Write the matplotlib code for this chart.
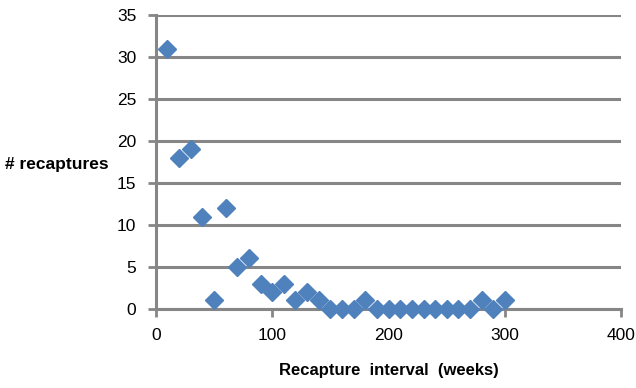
import matplotlib
matplotlib.use("Agg")
import matplotlib.pyplot as plt

# recapture interval (weeks) vs number of recaptures
weeks = [10, 20, 30, 40, 50, 60, 70, 80, 90, 100,
         110, 120, 130, 140, 150, 160, 170, 180, 190, 200,
         210, 220, 230, 240, 250, 260, 270, 280, 290, 300]
recaptures = [31, 18, 19, 11, 1, 12, 5, 6, 3, 2,
              3, 1, 2, 1, 0, 0, 0, 1, 0, 0,
              0, 0, 0, 0, 0, 0, 0, 1, 0, 1]
x_ticks = [0, 100, 200, 300, 400]
y_ticks = [0, 5, 10, 15, 20, 25, 30, 35]

plt.rcParams['font.family'] = ['Liberation Sans', 'DejaVu Sans']

fig = plt.figure(figsize=(6.36, 3.88), dpi=100)
ax = fig.add_axes([0.245, 0.204, 0.732, 0.757])

ax.plot(weeks, recaptures, linestyle='none', marker='D', markersize=9.5,
        color='#4F81BD', clip_on=False, zorder=3)

ax.set_xlim(0, 400)
ax.set_ylim(0, 35)
ax.set_xticks(x_ticks)
ax.set_yticks(y_ticks)

grey = '#868686'
ax.grid(axis='y', color=grey, linewidth=2.2)
ax.set_axisbelow(True)
for side in ('top', 'right'):
    ax.spines[side].set_visible(False)
for side in ('left', 'bottom'):
    ax.spines[side].set_color(grey)
    ax.spines[side].set_linewidth(2.2)
ax.tick_params(colors=grey, width=2, length=6, labelcolor='black',
               labelsize=12.5, pad=8)

ax.set_xlabel('Recapture  interval  (weeks)', fontsize=12, fontweight='bold',
              labelpad=14)
ax.set_ylabel('# recaptures', fontsize=12.5, fontweight='bold', rotation=0,
              ha='left', va='center')
ax.yaxis.set_label_coords(-0.325, 0.49)

fig.savefig('out.png', dpi=100)
